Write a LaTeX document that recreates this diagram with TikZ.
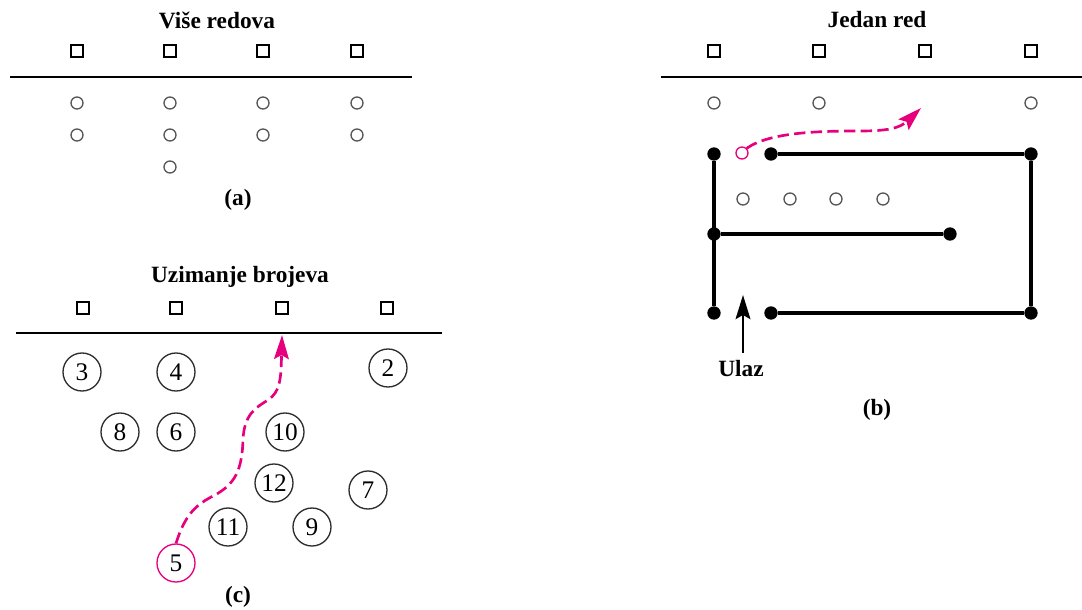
\documentclass[tikz,border=0pt]{standalone}
\usepackage{fontspec}
\setmainfont{Liberation Serif}
\usetikzlibrary{arrows.meta}

\definecolor{pathpink}{RGB}{230,0,126}
\definecolor{ringgray}{RGB}{85,85,85}
\definecolor{numgray}{RGB}{45,45,45}

\tikzset{every picture/.style={line width=0.75pt}}
\tikzset{
  headline/.style={inner sep=0.75pt,font=\fontsize{17.5}{20}\selectfont\bfseries},
  counterbox/.style={draw,line width=1.7pt,minimum size=8.5pt,inner sep=0pt},
  client/.style={circle,draw=ringgray,line width=1pt,minimum size=9pt,inner sep=0pt},
  numclient/.style={circle,draw=numgray,line width=1pt,minimum size=28.5pt,inner sep=0pt,font=\fontsize{19}{20}\selectfont},
  joint/.style={circle,fill,minimum size=10pt,inner sep=0pt},
  queueline/.style={line width=2.2pt},
  wall/.style={line width=2.5pt},
  walkpath/.style={draw=pathpink,line width=2pt,dash pattern=on 8.5pt off 4pt,
    -{Stealth[length=18pt,width=11pt,inset=3pt,fill=pathpink,sep=0pt]}}
}

\begin{document}
\begin{tikzpicture}[x=0.75pt,y=0.75pt,yscale=-1,xscale=1]
\useasboundingbox (0,0) rectangle (1082,610);

%%%%% Panel (a)
% Text Node
\node [headline] (ttla) at (217,20) {Više redova};
%Shape: Squares
\node [counterbox] (as1) at (77,51) {};
\node [counterbox] (as2) at (170,51) {};
\node [counterbox] (as3) at (263,51) {};
\node [counterbox] (as4) at (357,51) {};
%Straight Lines
\draw [queueline] (10,77) -- (412,77);
%Shape: Circles
\node [client] (ac11) at (77,103) {};
\node [client] (ac12) at (170,103) {};
\node [client] (ac13) at (263,103) {};
\node [client] (ac14) at (357,103) {};
\node [client] (ac21) at (77,135) {};
\node [client] (ac22) at (170,135) {};
\node [client] (ac23) at (263,135) {};
\node [client] (ac24) at (357,135) {};
\node [client] (ac32) at (170,167) {};
% Text Node
\node [headline] (capa) at (238,200) {(a)};

%%%%% Panel (b)
% Text Node
\node [headline] (ttlb) at (877,20) {Jedan red};
%Shape: Squares
\node [counterbox] (bs1) at (714,51) {};
\node [counterbox] (bs2) at (819,51) {};
\node [counterbox] (bs3) at (925,51) {};
\node [counterbox] (bs4) at (1031,51) {};
%Straight Lines
\draw [queueline] (661,77) -- (1082,77);
%Shape: Circles
\node [client] (bc1) at (714,103) {};
\node [client] (bc2) at (819,103) {};
\node [client] (bc4) at (1031,103) {};
\node [client,draw=pathpink] (bnext) at (742,153) {};
\node [client] (bw1) at (743,199) {};
\node [client] (bw2) at (790,199) {};
\node [client] (bw3) at (836,199) {};
\node [client] (bw4) at (883,199) {};
%Shape: Dots
\node [joint] (bj1) at (714,154) {};
\node [joint] (bj2) at (771,154) {};
\node [joint] (bj3) at (1031,154) {};
\node [joint] (bj4) at (714,234) {};
\node [joint] (bj5) at (950,234) {};
\node [joint] (bj6) at (714,313) {};
\node [joint] (bj7) at (771,313) {};
\node [joint] (bj8) at (1031,313) {};
%Straight Lines
\draw [wall] (bj1) -- (bj6) ;
\draw [wall] (bj4) -- (bj5) ;
\draw [wall] (bj2) -- (bj3) -- (bj8) -- (bj7) ;
% Text Node
\node [headline] (ulaz) at (741,369) {Ulaz};
\coordinate (ulaztip) at (743,295);
\draw [line width=2.2pt,shorten <=5pt,-{Stealth[length=18pt,width=11pt,inset=3pt,sep=0pt]}] (ulaztip |- ulaz.north) -- (ulaztip) ;
%Curve Lines
\coordinate (bgoal) at (921,108);
\draw [walkpath] (bnext.north east) .. controls (770,132) and (820,131) .. (860,131) .. controls (888,131) and (900,128) .. (bgoal) ;
% Text Node
\node [headline] (capb) at (877,410) {(b)};

%%%%% Panel (c)
% Text Node
\node [headline] (ttlc) at (240,277) {Uzimanje brojeva};
%Shape: Squares
\node [counterbox] (cs1) at (83,308) {};
\node [counterbox] (cs2) at (176,308) {};
\node [counterbox] (cs3) at (282,308) {};
\node [counterbox] (cs4) at (387,308) {};
%Straight Lines
\draw [queueline] (16,333) -- (442,333);
%Shape: Numbered Circles
\node [numclient] (n3) at (82,372) {3};
\node [numclient] (n4) at (176,372) {4};
\node [numclient] (n2) at (388,368) {2};
\node [numclient] (n8) at (120,432) {8};
\node [numclient] (n6) at (176,432) {6};
\node [numclient] (n10) at (285,432) {10};
\node [numclient] (n12) at (274,483) {12};
\node [numclient] (n7) at (368,490) {7};
\node [numclient] (n11) at (228,527) {11};
\node [numclient] (n9) at (312,527) {9};
\node [numclient,draw=pathpink] (n5) at (176,563) {5};
%Curve Lines
\coordinate (cgoal) at (282,335);
\draw [walkpath] (n5.north) .. controls (185,515) and (195,505) .. (215,495) .. controls (235,484) and (242,470) .. (243,440) .. controls (244,415) and (255,408) .. (268,400) .. controls (280,392) and (281,380) .. (cgoal) ;
% Text Node
\node [headline] (capc) at (238,597) {(c)};

\end{tikzpicture}
\end{document}
